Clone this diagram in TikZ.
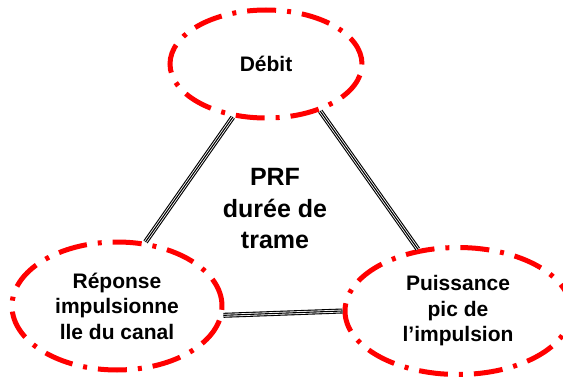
\documentclass[tikz,border=0pt]{standalone}
\usepackage{fontspec}
\setmainfont{Liberation Sans}
\usetikzlibrary{shapes.geometric}
\tikzset{
  param/.style={draw=red, ellipse, line width=5pt, inner sep=0pt,
    dash pattern=on 29pt off 11pt on 4pt off 11pt, align=center,
    font=\fontsize{21}{25.5}\selectfont\bfseries},
  link/.style={draw=black, line width=5pt,
    postaction={draw=white, line width=2.8pt},
    postaction={draw=black, line width=1.1pt}}
}
\begin{document}
\begin{tikzpicture}[x=1pt,y=1pt]
\useasboundingbox (0,0) rectangle (563,376);
\node[param, minimum width=192pt, minimum height=108pt] (debit) at (266,312) {D\'ebit};
\node[param, minimum width=210pt, minimum height=128pt] (rep) at (117,70) {R\'eponse\\impulsionne\\lle du canal};
\node[param, minimum width=226pt, minimum height=127pt] (pui) at (458,65) {Puissance\\pic de\\l’impulsion};
\node[align=center, font=\fontsize{25}{31.5}\selectfont\bfseries] (prf) at (275,167) {PRF\\dur\'ee de\\trame};
\draw[link] (debit.-122) -- (rep.66);
\draw[link] (debit.-41) -- (pui.123);
\draw[link] (rep.-5) -- (pui.west);
\end{tikzpicture}
\end{document}
